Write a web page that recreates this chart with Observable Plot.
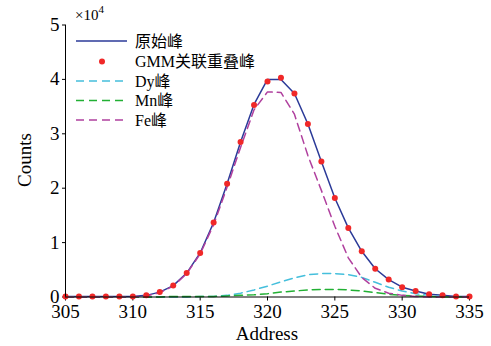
<!DOCTYPE html>
<html>
<head>
<meta charset="utf-8">
<script src="https://cdn.jsdelivr.net/npm/d3@7"></script>
<script src="https://cdn.jsdelivr.net/npm/@observablehq/plot@0.6"></script>
<style>
  html, body { margin: 0; padding: 0; background: #ffffff; }
  #chart svg { display: block; }
</style>
</head>
<body>
<div id="chart"></div>
<script>
// Channel address (x)
const address = [305,306,307,308,309,310,311,312,313,314,315,316,317,318,319,320,321,322,323,324,325,326,327,328,329,330,331,332,333,334,335];
// Counts, in units of 10^4
const original = [0.01,0.01,0.01,0.01,0.01,0.01,0.03,0.09,0.21,0.44,0.81,1.37,2.08,2.85,3.54,4.00,4.00,3.74,3.18,2.49,1.82,1.27,0.84,0.52,0.32,0.18,0.11,0.05,0.03,0.01,0.01];
const gmm      = [0.01,0.01,0.01,0.01,0.01,0.01,0.03,0.09,0.21,0.44,0.81,1.37,2.08,2.85,3.53,3.96,4.03,3.74,3.18,2.49,1.82,1.27,0.84,0.52,0.32,0.18,0.11,0.05,0.03,0.01,0.01];
const dy       = [0,0,0,0,0,0,0,0,0,0,0.01,0.01,0.03,0.07,0.13,0.20,0.28,0.35,0.41,0.43,0.43,0.41,0.36,0.27,0.18,0.11,0.06,0.03,0.01,0,0];
const mn       = [0,0,0,0,0,0,0,0,0.01,0.01,0.01,0.01,0.02,0.03,0.04,0.06,0.09,0.11,0.13,0.14,0.14,0.13,0.11,0.08,0.05,0.03,0.02,0.01,0,0,0];
const fe       = [0,0,0,0,0,0,0.02,0.08,0.20,0.43,0.79,1.33,2.02,2.75,3.44,3.77,3.76,3.36,2.60,1.96,1.30,0.72,0.36,0.16,0.07,0.03,0.01,0,0,0,0];

const xTicks = [305,310,315,320,325,330,335];
const yTicks = [0,1,2,3,4,5];
const legendLabels = ["原始峰","GMM关联重叠峰","Dy峰","Mn峰","Fe峰"];
const colors = {original:"#2b3a98", gmm:"#f02828", dy:"#45bfdc", mn:"#22b034", fe:"#b0409e"};

const rows = address.map((a, i) => ({a, original: original[i], gmm: gmm[i], dy: dy[i], mn: mn[i], fe: fe[i]}));

const FONT = '"Liberation Serif", "Times New Roman", "Noto Sans CJK SC", serif';
const dash = "8,5";

const chart = Plot.plot({
  width: 491,
  height: 346,
  marginLeft: 65,
  marginRight: 22,
  marginTop: 24.5,
  marginBottom: 49.5,
  style: {fontFamily: FONT, fontSize: "19px", background: "#ffffff", color: "#000"},
  x: {domain: [305, 335]},
  y: {domain: [0, 5]},
  marks: [
    Plot.axisX({ticks: xTicks, tickSize: 4, tickPadding: 3, fontSize: 19, label: null, stroke: "#000", tickFormat: d => String(d)}),
    Plot.axisY({ticks: yTicks, tickSize: 3, tickPadding: 3, fontSize: 19, label: null, stroke: "#000", tickFormat: d => String(d)}),
    Plot.line(rows, {x: "a", y: "original", stroke: colors.original, strokeWidth: 1.5}),
    Plot.line(rows, {x: "a", y: "dy", stroke: colors.dy, strokeWidth: 1.5, strokeDasharray: dash}),
    Plot.line(rows, {x: "a", y: "mn", stroke: colors.mn, strokeWidth: 1.5, strokeDasharray: dash}),
    Plot.line(rows, {x: "a", y: "fe", stroke: colors.fe, strokeWidth: 1.5, strokeDasharray: dash}),
    Plot.dot(rows, {x: "a", y: "gmm", r: 3, fill: colors.gmm, stroke: "none"}),
    Plot.ruleY([0], {stroke: "#000", strokeWidth: 1}),
    Plot.ruleX([305], {y1: 0, y2: 5, stroke: "#000", strokeWidth: 1})
  ]
});

document.getElementById("chart").appendChild(chart);

// Axis titles, exponent note and legend (layout only)
const svg = d3.select(chart);
svg.append("text").attr("x", 267).attr("y", 340).attr("text-anchor", "middle")
  .style("font-family", FONT).style("font-size", "19px").attr("fill", "#000").text("Address");
svg.append("text").attr("transform", "translate(31,160) rotate(-90)").attr("text-anchor", "middle")
  .style("font-family", FONT).style("font-size", "19px").attr("fill", "#000").text("Counts");

const ex = svg.append("text").attr("x", 75).attr("y", 20).attr("text-anchor", "start")
  .style("font-family", FONT).style("font-size", "15px").attr("fill", "#000");
ex.append("tspan").text("×10");
ex.append("tspan").attr("dy", -7).style("font-size", "11px").text("4");

const keys = ["original","gmm","dy","mn","fe"];
const ly = [41, 61.5, 81, 100.5, 120];
keys.forEach((k, i) => {
  const g = svg.append("g");
  if (k === "gmm") {
    g.append("circle").attr("cx", 102).attr("cy", ly[i]).attr("r", 3).attr("fill", colors.gmm);
  } else {
    g.append("line").attr("x1", 76).attr("x2", 127).attr("y1", ly[i]).attr("y2", ly[i])
      .attr("stroke", colors[k]).attr("stroke-width", 1.5)
      .attr("stroke-dasharray", k === "original" ? null : dash);
  }
  g.append("text").attr("x", 135).attr("y", ly[i]).attr("dy", "0.35em").attr("text-anchor", "start")
    .style("font-family", FONT).style("font-size", "16px").attr("fill", "#000").text(legendLabels[i]);
});
</script>
</body>
</html>
